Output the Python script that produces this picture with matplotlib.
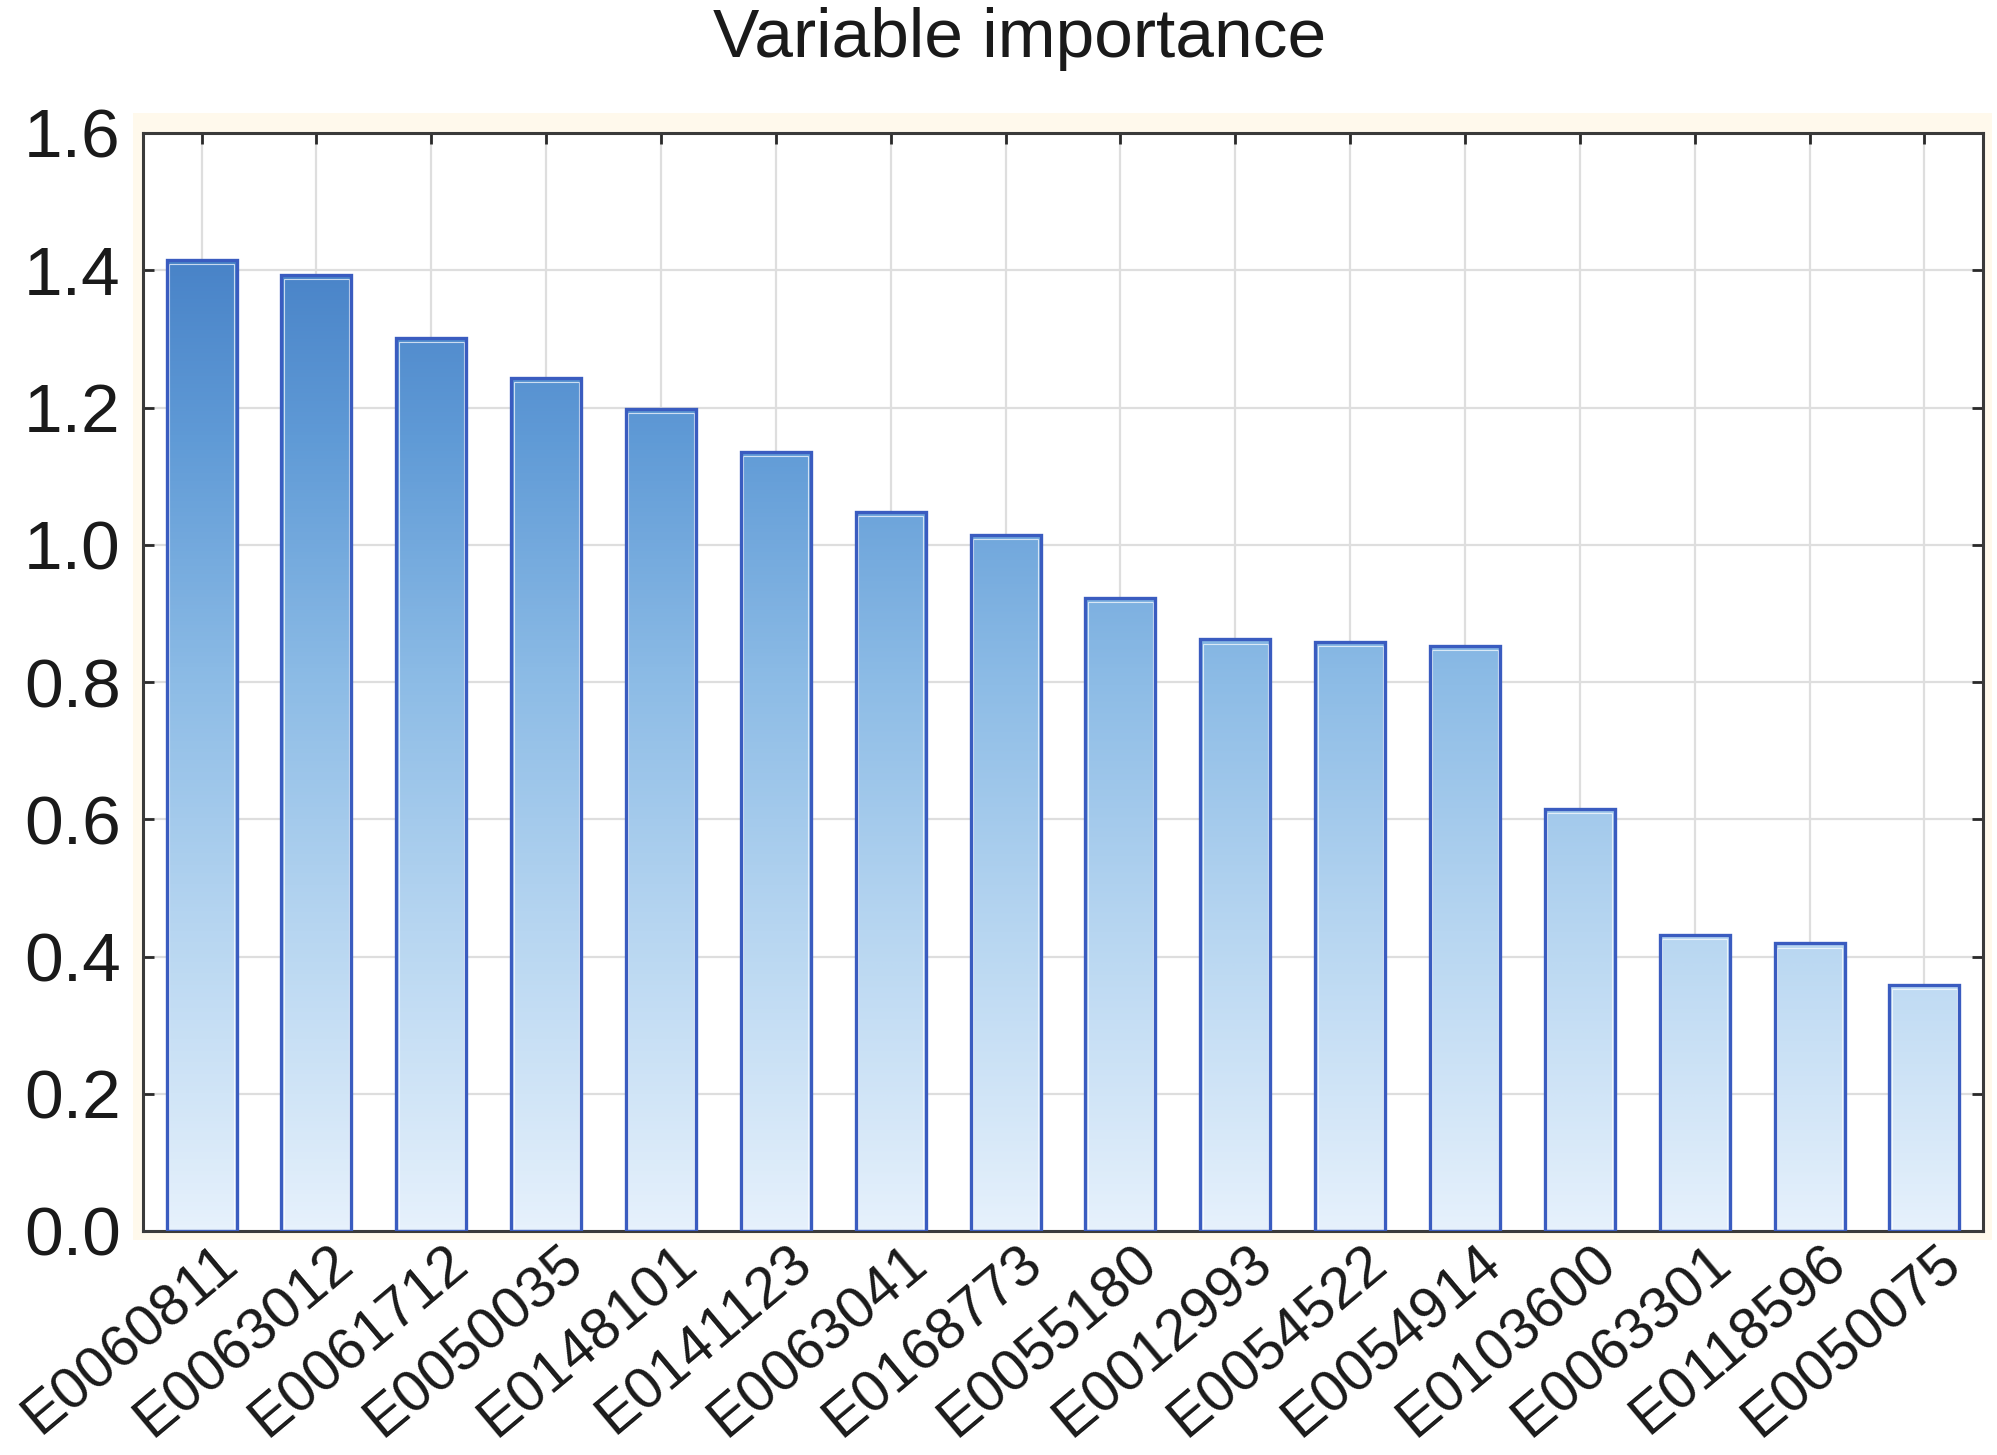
import numpy as np
import matplotlib
matplotlib.use("Agg")
import matplotlib.pyplot as plt
from matplotlib.colors import LinearSegmentedColormap
from matplotlib.patches import Rectangle
from matplotlib.transforms import ScaledTranslation

variables = ["E0060811", "E0063012", "E0061712", "E0050035", "E0148101", "E0141123",
             "E0063041", "E0168773", "E0055180", "E0012993", "E0054522", "E0054914",
             "E0103600", "E0063301", "E0118596", "E0050075"]
importance = [1.415, 1.393, 1.302, 1.243, 1.198, 1.135, 1.048, 1.014, 0.922,
              0.862, 0.858, 0.853, 0.615, 0.432, 0.419, 0.358]
yticks = [0.0, 0.2, 0.4, 0.6, 0.8, 1.0, 1.2, 1.4, 1.6]

plt.rcParams['font.family'] = ['Liberation Sans', 'DejaVu Sans']

W, H = 1997, 1455
fig = plt.figure(figsize=(W / 100, H / 100), dpi=100)
# cream backdrop behind the plot area
fig.patches.append(Rectangle((133 / W, 1 - 1240 / H), (1992 - 133) / W, (1240 - 113) / H,
                             transform=fig.transFigure, facecolor='#FFF9EC',
                             edgecolor='none', zorder=0))
ax = fig.add_axes([143 / W, 1 - 1231 / H, (1983 - 143) / W, (1231 - 133) / H])
ax.set_zorder(1)
ax.set_facecolor('white')

cmap = LinearSegmentedColormap.from_list(
    'grad', [(0.0, '#E6F1FC'), (0.3, '#B7D6F1'), (0.55, '#8DBCE6'),
             (0.8, '#5F9AD6'), (1.0, '#4680C6')])
vmax = 1.45
width = 0.61
x = np.arange(len(variables))
for xi, h in zip(x, importance):
    grad = np.linspace(0, h, 256).reshape(-1, 1)
    ax.imshow(grad, cmap=cmap, vmin=0, vmax=vmax, origin='lower', aspect='auto',
              extent=(xi - width / 2, xi + width / 2, 0, h), zorder=2,
              interpolation='bilinear')
bars = ax.bar(x, importance, width=width, facecolor='none', edgecolor='#3A5CC0',
              linewidth=2.4, zorder=3)
# thin inner highlight
for xi, h in zip(x, importance):
    ax.add_patch(Rectangle((xi - width / 2 + 0.022, 0), width - 0.044, h - 0.006,
                           facecolor='none', edgecolor='white', linewidth=0.8,
                           alpha=0.7, zorder=2.5))

ax.set_xlim(-0.51, 15.51)
ax.set_ylim(0, 1.6)
ax.set_yticks(yticks)
ax.set_yticklabels([f"{v:.1f}" for v in yticks])
ax.set_xticks(x)
ax.set_xticklabels(variables, rotation=40, ha='right', va='top', rotation_mode='anchor')

ax.grid(True, color='#DEDEDE', linewidth=1.6, zorder=0)
ax.set_axisbelow(True)
for s in ax.spines.values():
    s.set_color('#3A3A3A')
    s.set_linewidth(2.2)

ax.tick_params(axis='both', direction='in', length=8, width=2, color='#2A2A2A',
               top=True, right=True)
ax.tick_params(axis='y', labelsize=50, pad=16, labelcolor='#1A1A1A')
ax.tick_params(axis='x', labelsize=42, pad=3, labelcolor='#1A1A1A')

offset = ScaledTranslation(0.12, 0, fig.dpi_scale_trans)
for lab in ax.get_xticklabels():
    lab.set_transform(lab.get_transform() + offset)

fig.text(1020 / W, 1 - 57 / H, "Variable importance", fontsize=50, ha='center',
         va='baseline', color='#1A1A1A')

fig.savefig("out.png", dpi=100, facecolor='white')
